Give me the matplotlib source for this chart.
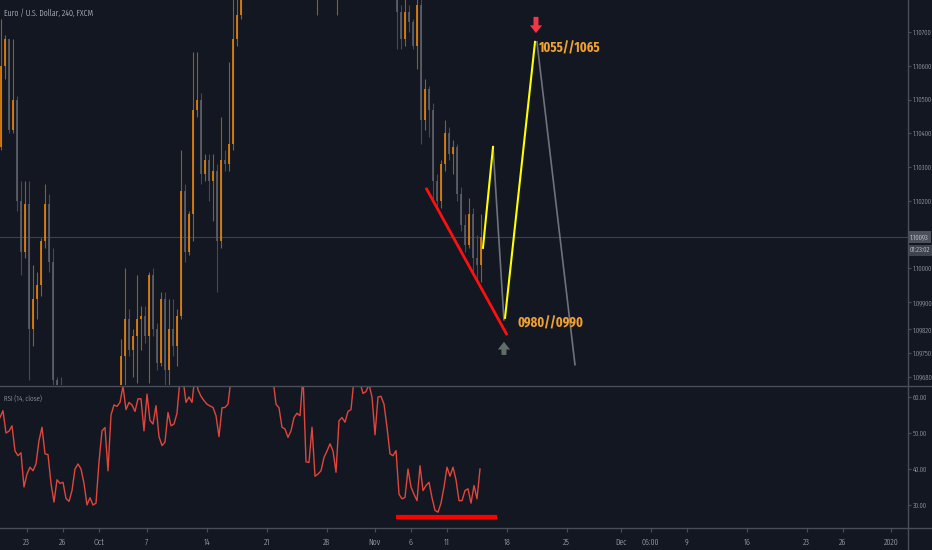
import numpy as np
import matplotlib
matplotlib.use("Agg")
import matplotlib.pyplot as plt
from matplotlib import font_manager
from matplotlib.font_manager import FontProperties
from matplotlib.lines import Line2D
from matplotlib.transforms import blended_transform_factory

# EUR/USD 4h candles (sampled every 8h), oldest first
first_open = 1.1036
closes = [1.1060, 1.1068, 1.1041, 1.1050, 1.1020, 1.1005, 1.1019, 1.0982, 1.0991, 1.0995,
          1.1008, 1.1019, 1.1002, 1.0967, 1.0955, 1.0952, 1.0950, 1.0945, 1.0940, 1.0930,
          1.0920, 1.0905, 1.0895, 1.0885, 1.0880, 1.0900, 1.0910, 1.0925, 1.0940, 1.0955,
          1.0974, 1.0985, 1.0976, 1.0980, 1.0985, 1.0986, 1.0980, 1.0998, 1.0982, 1.0972,
          1.0991, 1.0970, 1.0982, 1.0977, 1.0986, 1.1023, 1.1005, 1.1016, 1.1047, 1.1050,
          1.1028, 1.1032, 1.1026, 1.1029, 1.1008, 1.1032, 1.1031, 1.1037, 1.1068, 1.1075,
          1.1090, 1.1100, 1.1110, 1.1105, 1.1120, 1.1135, 1.1130, 1.1145, 1.1160, 1.1155,
          1.1170, 1.1165, 1.1175, 1.1160, 1.1140, 1.1130, 1.1110, 1.1100, 1.1090, 1.1095,
          1.1100, 1.1090, 1.1088, 1.1092, 1.1095, 1.1110, 1.1125, 1.1140, 1.1150, 1.1160,
          1.1170, 1.1165, 1.1155, 1.1140, 1.1130, 1.1120, 1.1105, 1.1095, 1.1090, 1.1076,
          1.1068, 1.1076, 1.1073, 1.1066, 1.1078, 1.1044, 1.1053, 1.1047, 1.1026, 1.1020,
          1.1031, 1.1040, 1.1034, 1.1036, 1.1022, 1.1013, 1.1007, 1.1016, 1.1003, 1.1001,
          1.10093]
highs = [1.1074, 1.1069, 1.1068, 1.1068, 1.1051, 1.1026, 1.1026, 1.1026, 1.1001, 1.0999,
         1.1009, 1.1025, 1.1022, 1.1006, 1.0968, 1.0968, 1.0958, 1.0955, 1.0952, 1.0945,
         1.0935, 1.0925, 1.0910, 1.0900, 1.0892, 1.0905, 1.0918, 1.0932, 1.0948, 1.0960,
         1.0979, 1.1000, 1.0988, 1.0982, 1.0998, 1.0989, 1.0989, 1.0999, 1.1000, 1.0984,
         1.0993, 1.0993, 1.0991, 1.0991, 1.0988, 1.1035, 1.1025, 1.1017, 1.1064, 1.1064,
         1.1052, 1.1034, 1.1034, 1.1034, 1.1031, 1.1045, 1.1035, 1.1061, 1.1085, 1.1090,
         1.1098, 1.1108, 1.1118, 1.1115, 1.1128, 1.1142, 1.1140, 1.1152, 1.1168, 1.1165,
         1.1178, 1.1175, 1.1182, 1.1178, 1.1162, 1.1145, 1.1135, 1.1115, 1.1105, 1.1105,
         1.1108, 1.1104, 1.1096, 1.1098, 1.1102, 1.1115, 1.1130, 1.1146, 1.1158, 1.1166,
         1.1178, 1.1175, 1.1168, 1.1158, 1.1145, 1.1135, 1.1124, 1.1110, 1.1100, 1.1095,
         1.1078, 1.1080, 1.1078, 1.1074, 1.1082, 1.1080, 1.1056, 1.1054, 1.1049, 1.1028,
         1.1032, 1.1044, 1.1042, 1.1038, 1.1037, 1.1024, 1.1016, 1.1021, 1.1018, 1.1010,
         1.1016]
lows = [1.1035, 1.1056, 1.1040, 1.1040, 1.1017, 1.0998, 1.1003, 1.0967, 1.0977, 1.0985,
        1.0992, 1.1006, 1.0999, 1.0963, 1.0949, 1.0943, 1.0940, 1.0935, 1.0930, 1.0922,
        1.0912, 1.0898, 1.0886, 1.0879, 1.0879, 1.0878, 1.0895, 1.0905, 1.0920, 1.0935,
        1.0950, 1.0964, 1.0974, 1.0968, 1.0966, 1.0976, 1.0978, 1.0966, 1.0980, 1.0970,
        1.0971, 1.0964, 1.0964, 1.0974, 1.0971, 1.0985, 1.1002, 1.1004, 1.1008, 1.1045,
        1.1025, 1.1026, 1.1020, 1.1014, 1.0993, 1.1006, 1.1029, 1.1029, 1.1035, 1.1066,
        1.1074, 1.1088, 1.1098, 1.1096, 1.1102, 1.1115, 1.1125, 1.1128, 1.1142, 1.1150,
        1.1152, 1.1160, 1.1162, 1.1155, 1.1135, 1.1125, 1.1105, 1.1095, 1.1085, 1.1075,
        1.1090, 1.1086, 1.1084, 1.1085, 1.1075, 1.1092, 1.1106, 1.1120, 1.1136, 1.1146,
        1.1156, 1.1160, 1.1150, 1.1135, 1.1125, 1.1115, 1.1100, 1.1090, 1.1086, 1.1065,
        1.1065, 1.1066, 1.1070, 1.1065, 1.1059, 1.1037, 1.1041, 1.1039, 1.1020, 1.1018,
        1.1018, 1.1029, 1.1032, 1.1028, 1.1020, 1.1011, 1.1005, 1.1006, 1.0999, 1.0997,
        1.0996]
last_price = 1.10093

# RSI(14, close), sampled every 6h
rsi = [54.3, 56.2, 50.0, 50.5, 52.0, 45.0, 43.7, 44.5, 35.0, 38.6,
       40.5, 39.5, 41.4, 47.9, 51.6, 44.2, 44.0, 36.0, 30.8, 37.0,
       36.0, 36.3, 31.8, 31.0, 34.0, 40.0, 41.4, 40.0, 36.0, 30.0,
       32.0, 30.0, 30.5, 42.0, 50.6, 51.5, 39.5, 55.0, 57.8, 57.4,
       58.5, 63.0, 56.5, 58.5, 57.8, 56.0, 59.5, 59.5, 50.6, 60.8,
       53.5, 52.5, 57.6, 49.0, 46.5, 47.5, 55.7, 52.0, 52.5, 55.5,
       65.0, 65.0, 58.5, 60.0, 58.5, 66.0, 62.0, 60.2, 59.0, 58.0,
       57.5, 57.1, 54.8, 49.0, 57.0, 57.1, 58.0, 65.0,
       67.0, 69.0, 70.0, 72.0, 71.0, 73.0, 70.0, 68.0, 71.0, 69.0,
       67.0, 68.0, 66.0, 65.0,
       58.0, 57.0, 51.6, 51.1, 48.8, 50.6, 54.3, 55.5, 54.8, 66.0,
       42.0, 41.8, 51.6, 38.0, 38.6, 39.5, 43.2, 45.0, 47.0, 45.0,
       39.1, 53.4, 54.3, 53.0, 56.0, 56.5, 65.0, 67.0, 64.0, 61.0,
       61.5, 63.5, 60.0, 49.5, 60.0, 60.2, 58.0, 51.6, 44.2, 43.7,
       45.1, 33.0, 31.7, 32.1, 40.0, 35.0, 33.0, 31.2, 40.9, 34.0,
       35.4, 36.3, 32.0, 28.5, 28.0, 30.5, 35.0, 40.5, 38.0, 40.5,
       37.0, 31.2, 31.2, 34.0, 34.5, 30.5, 35.4, 31.7, 40.0]

# drawings (trading-day index, price)
support_line = ([33.27, 40.03], [1.10239, 1.09803])
leg1_up = ([38.02, 38.86], [1.10061, 1.10360])
leg1_down = ([38.86, 39.77], [1.10360, 1.09848])
leg2_up = ([39.86, 42.36], [1.09854, 1.10671])
leg2_down = ([42.52, 45.69], [1.10671, 1.09715])
target_hi = (42.69, 1.10653, "1055//1065")
target_lo = (40.94, 1.09839, "0980//0990")
sell_arrow = (42.44, 1.10745, 1.10697)   # x, tail, tip
buy_arrow = (39.77, 1.09744, 1.09783)
rsi_floor = ([30.8, 39.2], 26.7)

price_ticks = [1.107, 1.106, 1.105, 1.104, 1.103, 1.102, 1.100, 1.099, 1.0982, 1.0975, 1.0968]
rsi_ticks = [60, 50, 40, 30]
date_ticks = [0, 3, 6, 10, 15, 20, 25, 29, 32, 35, 40, 45, 49.5, 52, 55, 60, 65, 68, 72]
date_labels = ["23", "26", "Oct", "7", "14", "21", "28", "Nov", "6", "11", "18", "25",
               "Dec", "06:00", "9", "16", "23", "26", "2020"]

BG = "#131722"
TXT = "#b2b5be"
LINE = "#4a4e59"


# look for a narrow face, the screenshot text is very condensed
def pick_font(bold=False):
    want = 700 if bold else 400
    best, best_rank = None, 99
    for f in font_manager.fontManager.ttflist:
        name, st = f.name, str(f.stretch)
        if f.style != "normal" or "Mono" in name or "CJK" in name:
            continue
        w = f.weight if isinstance(f.weight, (int, float)) else font_manager.weight_dict.get(f.weight, 400)
        if abs(w - want) > 100:
            continue
        fn = f.fname.replace("-", "").replace("_", "").lower()
        if "extracondensed" in fn:
            rank = 1
        elif "semicondensed" in fn:
            rank = 3
        elif "Narrow" in name or "condensed" in fn or "narrow" in fn or st == "condensed":
            rank = 2
        else:
            continue
        if rank < best_rank:
            best, best_rank = f, rank
    return best


reg = pick_font(False)
bld = pick_font(True)


def fp(size, bold=False):
    f = bld if bold else reg
    if f is None:
        # no narrow face installed: shrink DejaVu instead
        return FontProperties(family="DejaVu Sans", size=size * 0.72,
                              weight="bold" if bold else "normal")
    return FontProperties(fname=f.fname, size=size)


fig = plt.figure(figsize=(9.32, 5.5), dpi=100, facecolor=BG)
right = 908 / 932
ax = fig.add_axes([0, 165 / 550, right, 385 / 550], facecolor=BG)
ax2 = fig.add_axes([0, 22 / 550, right, 142 / 550], facecolor=BG, sharex=ax)

# candles
closes = np.array(closes)
opens = np.r_[first_open, closes[:-1]]
days = -2.14 + np.arange(len(closes)) / 3
up = closes >= opens
body_col = np.where(up, "#e8820c", "#5d6069")
wick_col = np.where(up, "#9a5a14", "#474a53")
ax.vlines(days, lows, highs, colors=wick_col, lw=0.8, zorder=2)
ax.bar(days, np.maximum(np.abs(closes - opens), 0.00003), bottom=np.minimum(opens, closes),
       width=0.18, color=body_col, alpha=0.85, lw=0, zorder=3)

ax.axhline(last_price, color="#3d414b", lw=0.8, zorder=1)

# drawings
ax.plot(*support_line, color="#ff1010", lw=2, zorder=5, solid_capstyle="butt")
ax.plot(*leg1_up, color="#ffff00", lw=1.5, zorder=5)
ax.plot(*leg1_down, color="#6f727b", lw=1.2, zorder=4)
ax.plot(*leg2_up, color="#ffff00", lw=1.5, zorder=5)
ax.plot(*leg2_down, color="#6f727b", lw=1.2, zorder=4)
for x, y, s in (target_hi, target_lo):
    ax.text(x, y, s, color="#f0a030", fontproperties=fp(9.8, True), va="center", ha="left", zorder=6)
arrow_style = "simple,head_length=0.7,head_width=1.1,tail_width=0.45"
ax.annotate("", xy=(sell_arrow[0], sell_arrow[2]), xytext=(sell_arrow[0], sell_arrow[1]),
            arrowprops=dict(arrowstyle=arrow_style, color="#f23645", lw=0, shrinkA=0, shrinkB=0,
                            mutation_scale=8), zorder=6)
ax.annotate("", xy=(buy_arrow[0], buy_arrow[2]), xytext=(buy_arrow[0], buy_arrow[1]),
            arrowprops=dict(arrowstyle=arrow_style, color="#5f6e66", lw=0, shrinkA=0, shrinkB=0,
                            mutation_scale=8), zorder=6)

ax.set_xlim(-2.225, 73.44)
ax.set_ylim(1.09655, 1.10795)

# RSI pane
rdays = -2.225 + np.arange(len(rsi)) / 4
ax2.plot(rdays, rsi, color="#e0463b", lw=1)
ax2.plot(rsi_floor[0], [rsi_floor[1]] * 2, color="#ff0000", lw=3, solid_capstyle="butt")
ax2.set_ylim(23.6, 63.06)

for a in (ax, ax2):
    for s in a.spines.values():
        s.set_visible(False)
    a.yaxis.tick_right()
    a.tick_params(axis="y", colors=LINE, labelcolor=TXT, length=2, pad=1.5)

small = fp(5.2)
ax.set_yticks(price_ticks)
ax.set_yticklabels([f"{v:.5f}" for v in price_ticks], fontproperties=small)
ax2.set_yticks(rsi_ticks)
ax2.set_yticklabels([f"{v:.2f}" for v in rsi_ticks], fontproperties=small)
ax.tick_params(axis="x", bottom=False, labelbottom=False)
ax2.set_xticks(date_ticks)
ax2.set_xticklabels(date_labels, fontproperties=fp(6.2))
ax2.tick_params(axis="x", colors=LINE, labelcolor=TXT, length=3, pad=4)

# last price / countdown labels on price scale
tr = blended_transform_factory(ax.transAxes, ax.transData)
ax.text(1.002, last_price, f"{last_price:.5f}", transform=tr, color="#e6e7ea", fontproperties=small,
        va="center", ha="left", bbox=dict(boxstyle="square,pad=0.3", fc="#4c505b", ec="none"), clip_on=False)
ax.annotate("01:23:02", xy=(1.002, last_price), xycoords=tr, xytext=(0, -9.5), textcoords="offset points",
            color="#e6e7ea", fontproperties=small, va="center", ha="left",
            bbox=dict(boxstyle="square,pad=0.3", fc="#3f434d", ec="none"), annotation_clip=False)

# pane separators
fig.add_artist(Line2D([0, 1], [1 - 386 / 550] * 2, color=LINE, lw=1))
fig.add_artist(Line2D([0, 1], [22 / 550] * 2, color=LINE, lw=1))
fig.add_artist(Line2D([right] * 2, [0, 1], color=LINE, lw=1))

fig.text(0.004, 1 - 13 / 550, "Euro / U.S. Dollar, 240, FXCM", color="#d1d4dc", fontproperties=fp(6.2), va="center")
fig.text(0.004, 1 - 399 / 550, "RSI (14, close)", color=TXT, fontproperties=fp(5.4), va="center")

fig.savefig("out.png", dpi=100, facecolor=BG)
